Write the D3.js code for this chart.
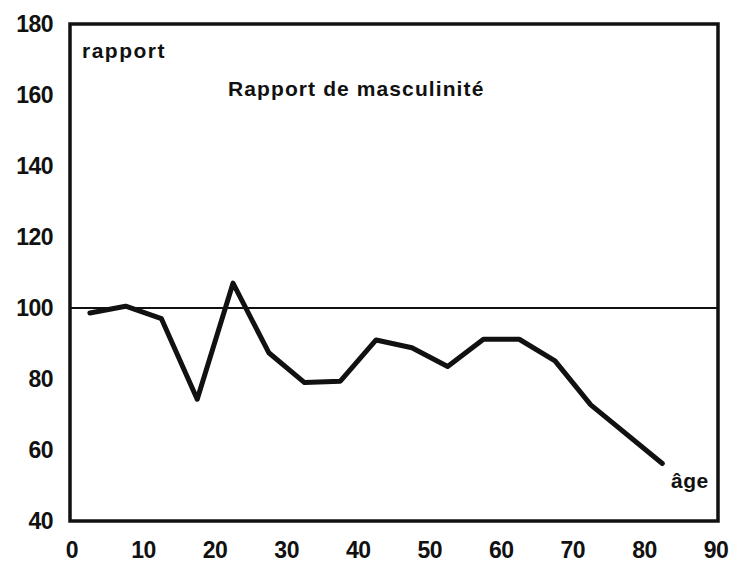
<!DOCTYPE html>
<html>
<head>
<meta charset="utf-8">
<script src="https://cdn.jsdelivr.net/npm/d3@7"></script>
<style>
  body { margin: 0; background: #fff; }
  text { font-family: "Liberation Sans", Arial, sans-serif; font-weight: bold; fill: #111; }
</style>
</head>
<body>
<svg></svg>
<script>
const WIDTH = 740;
const HEIGHT = 566;

// age groups (midpoints) and sex ratio values
const ages = [2.5, 7.5, 12.5, 17.5, 22.5, 27.5, 32.5, 37.5, 42.5, 47.5, 52.5, 57.5, 62.5, 67.5, 72.5, 82.5];
const ratios = [98.6, 100.5, 97, 74.3, 107, 87.4, 79, 79.4, 91, 88.8, 83.5, 91.2, 91.2, 85.1, 72.7, 56.2];
const xTicks = [0, 10, 20, 30, 40, 50, 60, 70, 80, 90];
const yTicks = [40, 60, 80, 100, 120, 140, 160, 180];
const refValue = 100;

const margin = { left: 70, right: 22, top: 24, bottom: 45 };

const svg = d3.select("svg").attr("width", WIDTH).attr("height", HEIGHT);

const x = d3.scaleLinear().domain([0, 90]).range([72, 716]);
const y = d3.scaleLinear().domain([40, 180]).range([HEIGHT - margin.bottom, margin.top]);

// frame
svg.append("rect")
  .attr("x", margin.left)
  .attr("y", margin.top)
  .attr("width", WIDTH - margin.right - margin.left)
  .attr("height", HEIGHT - margin.bottom - margin.top)
  .attr("fill", "none")
  .attr("stroke", "#111")
  .attr("stroke-width", 3.5);

// y tick labels
svg.append("g")
  .selectAll("text")
  .data(yTicks)
  .enter()
  .append("text")
  .attr("x", 53)
  .attr("y", d => y(d))
  .attr("dy", "0.36em")
  .attr("text-anchor", "end")
  .attr("font-size", 23)
  .attr("letter-spacing", -0.5)
  .text(d => d);

// x tick labels
svg.append("g")
  .selectAll("text")
  .data(xTicks)
  .enter()
  .append("text")
  .attr("x", d => x(d))
  .attr("y", 558)
  .attr("text-anchor", "middle")
  .attr("font-size", 23)
  .attr("letter-spacing", -0.5)
  .text(d => d);

// reference line at 100
svg.append("line")
  .attr("x1", margin.left)
  .attr("x2", WIDTH - margin.right)
  .attr("y1", y(refValue))
  .attr("y2", y(refValue))
  .attr("stroke", "#111")
  .attr("stroke-width", 2);

// data line
const line = d3.line()
  .x((d, i) => x(ages[i]))
  .y(d => y(d));

svg.append("path")
  .datum(ratios)
  .attr("d", line)
  .attr("fill", "none")
  .attr("stroke", "#111")
  .attr("stroke-width", 5)
  .attr("stroke-linejoin", "round")
  .attr("stroke-linecap", "round");

// labels
svg.append("text").attr("x", 82).attr("y", 58).attr("font-size", 21).attr("letter-spacing", 1.5).text("rapport");
svg.append("text").attr("x", 228).attr("y", 96).attr("font-size", 21).attr("letter-spacing", 1.1).text("Rapport de masculinité");
svg.append("text").attr("x", 671).attr("y", 488).attr("font-size", 21).attr("letter-spacing", 0.5).text("âge");
</script>
</body>
</html>
